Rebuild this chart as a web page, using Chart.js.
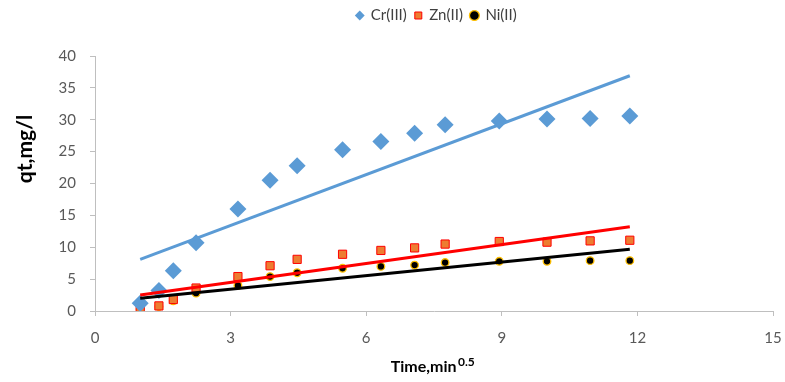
<!DOCTYPE html>
<html>
<head>
<meta charset="utf-8">
<script src="https://cdn.jsdelivr.net/npm/chart.js@4.4.0/dist/chart.umd.min.js"></script>
<style>
  html, body { margin: 0; padding: 0; background: #fff; }
  #wrap { width: 785px; height: 382px; }
</style>
</head>
<body>
<div id="wrap"><canvas id="chart" width="785" height="382"></canvas></div>
<script>
// time^0.5 values (x) and uptake values
const sqrtTime = [1, 1.414, 1.732, 2.236, 3.162, 3.873, 4.472, 5.477, 6.325, 7.071, 7.746, 8.944, 10, 10.954, 11.832];
const crValues = [1.2, 3.2, 6.3, 10.7, 16.0, 20.5, 22.8, 25.3, 26.6, 27.9, 29.2, 29.8, 30.1, 30.2, 30.6];
const znValues = [0.3, 0.8, 1.8, 3.6, 5.4, 7.1, 8.1, 8.9, 9.5, 9.9, 10.5, 10.9, 10.8, 11.0, 11.1];
const niValues = [0.3, 0.7, 1.6, 2.8, 4.0, 5.4, 6.0, 6.7, 7.0, 7.2, 7.6, 7.8, 7.8, 7.9, 7.9];

// linear trendline end points (x at first / last sample)
const trendX = [1, 11.832];
const crTrend = [8.1, 36.9];
const znTrend = [2.5, 13.2];
const niTrend = [2.0, 9.7];

const xTicks = [0, 3, 6, 9, 12, 15];
const yTicks = [0, 5, 10, 15, 20, 25, 30, 35, 40];

const toPoints = (xs, ys) => xs.map((x, i) => ({ x: x, y: ys[i] }));
const FONT = "Lato, 'Open Sans', sans-serif";

// more room under the legend, and legend sits a bit right of centre
const legendSpace = {
    id: "legendSpace",
    beforeInit(chart) {
        const fit = chart.legend.fit;
        chart.legend.fit = function () {
            fit.bind(chart.legend)();
            this.height += 23;
        };
    },
    afterLayout(chart) {
        chart.legend.left += 38;
        chart.legend.right += 38;
    }
};

// axis titles: x one has the raised 0.5, y one sits above the axis middle
const axisTitles = {
    id: "axisTitles",
    afterDraw(chart) {
        const ctx = chart.ctx;
        const area = chart.chartArea;
        ctx.save();
        ctx.fillStyle = "#000";
        ctx.textBaseline = "alphabetic";
        ctx.font = "bold 16px " + FONT;
        const main = "Time,min";
        const w1 = ctx.measureText(main).width;
        ctx.font = "bold 12px " + FONT;
        const w2 = ctx.measureText("0.5").width;
        const start = (area.left + area.right) / 2 - (w1 + w2) / 2 - 2;
        const base = 372;
        ctx.font = "bold 16px " + FONT;
        ctx.fillText(main, start, base);
        ctx.font = "bold 12px " + FONT;
        ctx.fillText("0.5", start + w1 + 1.5, base - 6);

        ctx.translate(25, 149);
        ctx.rotate(-Math.PI / 2);
        ctx.textAlign = "center";
        ctx.textBaseline = "middle";
        ctx.font = "bold 21px " + FONT;
        ctx.fillText("qt,mg/l", 0, 0);
        ctx.restore();
    }
};

const trendDs = (label, data, color) => ({
    label: label,
    data: toPoints(trendX, data),
    showLine: true,
    borderColor: color,
    borderWidth: 3,
    pointRadius: 0,
    pointHoverRadius: 0,
    fill: false,
    isTrend: true
});

new Chart(document.getElementById("chart"), {
    type: "scatter",
    data: {
        datasets: [
            trendDs("Cr trend", crTrend, "#5B9BD5"),
            trendDs("Zn trend", znTrend, "#FF0000"),
            trendDs("Ni trend", niTrend, "#000000"),
            {
                label: "Cr(III)",
                data: toPoints(sqrtTime, crValues),
                pointStyle: "rectRot",
                pointRadius: 8.5,
                backgroundColor: "#5B9BD5",
                borderColor: "#5B9BD5",
                borderWidth: 0
            },
            {
                label: "Zn(II)",
                data: toPoints(sqrtTime, znValues),
                pointStyle: "rect",
                pointRadius: 5.8,
                backgroundColor: "#ED7D31",
                borderColor: "#FF0000",
                borderWidth: 1
            },
            {
                label: "Ni(II)",
                data: toPoints(sqrtTime, niValues),
                pointStyle: "circle",
                pointRadius: 3.8,
                backgroundColor: "#000000",
                borderColor: "#FFC000",
                borderWidth: 1.3
            }
        ]
    },
    options: {
        responsive: false,
        animation: false,
        layout: { padding: { top: 0, left: 24, right: 12, bottom: 0 } },
        plugins: {
            tooltip: { enabled: false },
            legend: {
                position: "top",
                align: "center",
                labels: {
                    usePointStyle: true,
                    boxWidth: 7,
                    boxHeight: 7,
                    padding: 8,
                    color: "#404040",
                    font: { family: FONT, size: 15 },
                    filter: (item, data) => !data.datasets[item.datasetIndex].isTrend
                }
            }
        },
        scales: {
            x: {
                type: "linear",
                min: 0,
                max: 15,
                afterBuildTicks: (scale) => { scale.ticks = xTicks.map(v => ({ value: v })); },
                afterFit: (scale) => {
                    scale.height = 71;
                    scale.paddingLeft = 0;
                    scale.paddingRight = 0;
                },
                ticks: {
                    color: "#595959",
                    font: { family: FONT, size: 15 },
                    padding: 13
                },
                grid: {
                    drawOnChartArea: false,
                    drawTicks: true,
                    tickLength: 5,
                    color: "#BFBFBF"
                },
                border: { display: true, color: "#BFBFBF", width: 1 }
            },
            y: {
                min: 0,
                max: 40,
                afterBuildTicks: (scale) => { scale.ticks = yTicks.map(v => ({ value: v })); },
                afterFit: (scale) => { scale.width = 71; },
                ticks: {
                    color: "#595959",
                    font: { family: FONT, size: 15 },
                    padding: 14
                },
                grid: {
                    drawOnChartArea: false,
                    drawTicks: true,
                    tickLength: 5,
                    color: "#BFBFBF"
                },
                border: { display: true, color: "#BFBFBF", width: 1 }
            }
        }
    },
    plugins: [legendSpace, axisTitles]
});
</script>
</body>
</html>
